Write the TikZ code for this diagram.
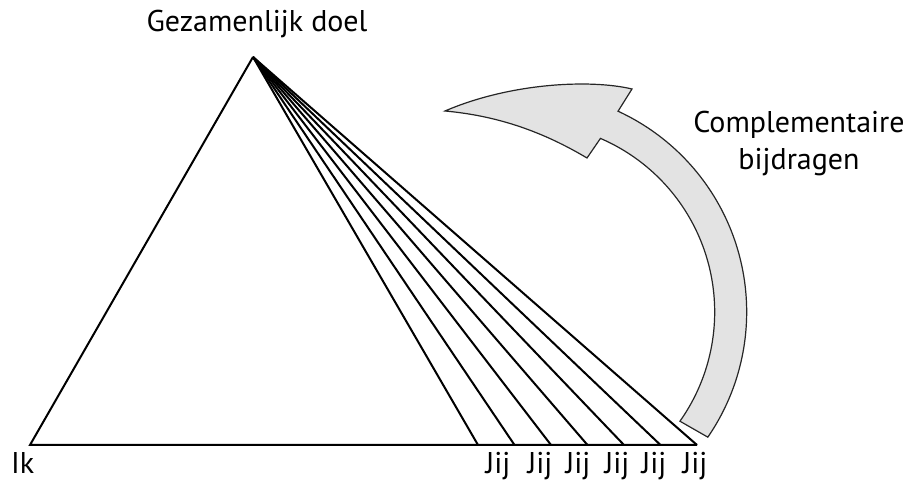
\documentclass[tikz,border=0pt]{standalone}
\usepackage{fontspec}
\setmainfont{PT Sans}
\usetikzlibrary{calc}

\tikzset{
  label text/.style={font=\fontsize{30}{37}\selectfont, anchor=base, inner sep=0pt},
  side/.style={line width=2pt, line join=miter},
  turn arrow/.style={fill=black!11, draw=black!85, line width=1.2pt, line join=miter}
}

\begin{document}
\begin{tikzpicture}[x=1pt,y=1pt]
\useasboundingbox (0,0) rectangle (914,481);
\coordinate (top) at (253,424);
\coordinate (ik) at (30,36);
\foreach \i in {0,...,6} \coordinate (b\i) at (478+36.5*\i,36);
\coordinate (mid) at (525.7,169);
% triangle and fan
\draw[side] (b6) -- (ik) -- (top);
\foreach \i in {0,...,6} \draw[side] (top) -- (b\i);
% curved arrow
\draw[turn arrow] ($(mid)+(-34.5:221)$) arc[start angle=-34.5, end angle=65.3, radius=221]
  -- (632,392) .. controls (590,402) and (510,398) .. (445,370)
  .. controls (500,365) and (545,348) .. (587,323)
  -- ($(mid)+(66.7:189)$) arc[start angle=66.7, end angle=-35.3, radius=189] -- cycle;
% labels
\node[label text] (doel) at (257,449) {Gezamenlijk doel};
\node[label text, anchor=base west] (iklabel) at (11,7) {Ik};
\foreach \x [count=\k] in {498,540,578,617,654,695}
  \node[label text] (jij\k) at (\x,7) {Jij};
\node[label text, align=center] (bijdrage) at (799,311) {Complementaire\\bijdragen};
\end{tikzpicture}
\end{document}
